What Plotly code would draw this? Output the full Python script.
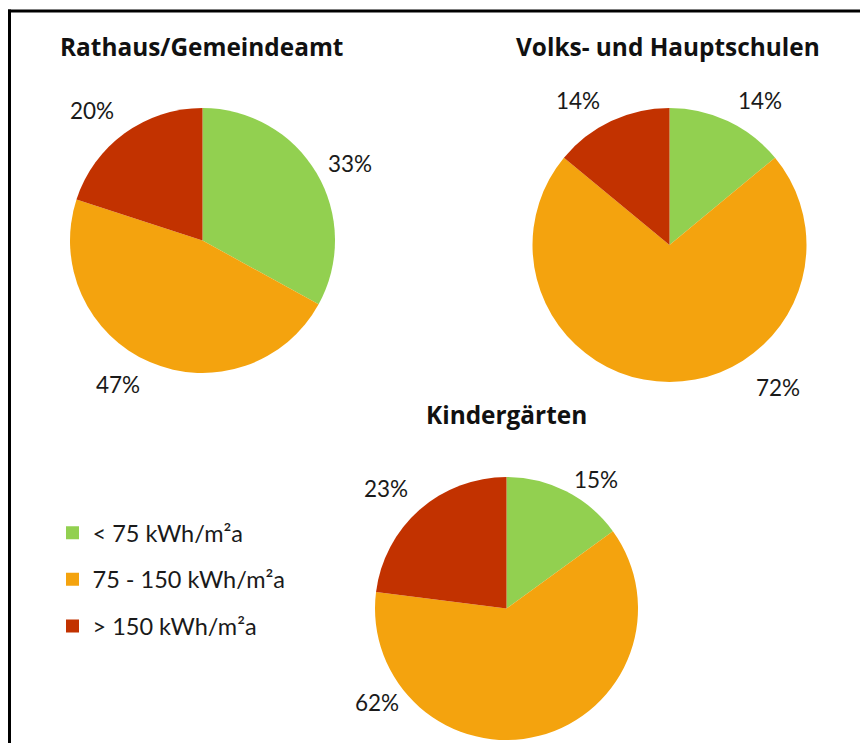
import math
import plotly.graph_objects as go

# ---- data ----
categories = ["< 75 kWh/m²a", "75 - 150 kWh/m²a", "> 150 kWh/m²a"]
titles = ["Rathaus/Gemeindeamt", "Volks- und Hauptschulen", "Kindergärten"]
rathaus = [33, 47, 20]
schulen = [14, 72, 14]
kinder = [15, 62, 23]
series = [rathaus, schulen, kinder]

# ---- styles / layout (pixel geometry in page coordinates) ----
PAGE_OFF = 8          # default body margin of the html page
W, H = 868 - 2 * PAGE_OFF, 751 - 2 * PAGE_OFF
colors = ["#92D050", "#F4A30E", "#C23200"]
# pie centre (px) and radius (px)
pie_geom = [(202.5, 240.5, 132.5), (669.5, 245.0, 137.0), (506.5, 608.5, 131.5)]
# label placement: angle (deg, clockwise from top) and distance from centre (px)
label_angle = [[62.4, 210.3, 319.7], [32.1, 142.8, 327.6], [34.9, 234.2, 314.8]]
label_dist = [[167, 167, 171], [170, 179, 171], [157, 160, 170]]
title_pos = [(201, 47), (668, 47), (506, 414)]

FONT = "Lato"
TITLE_FONT = "Open Sans"

def px_x(x):
    return (x - PAGE_OFF) / W

def px_y(y):
    return 1 - (y - PAGE_OFF) / H

fig = go.Figure()

for i, vals in enumerate(series):
    cx, cy, r = pie_geom[i]
    fig.add_trace(go.Pie(
        labels=categories,
        values=vals,
        sort=False,
        direction="clockwise",
        rotation=0,
        textinfo="none",
        marker=dict(colors=colors, line=dict(width=0)),
        domain=dict(x=[px_x(cx - r), px_x(cx + r)], y=[px_y(cy + r), px_y(cy - r)]),
        showlegend=False,
        name=titles[i],
    ))
    for j, v in enumerate(vals):
        a = math.radians(label_angle[i][j])
        d = label_dist[i][j]
        lx = cx + d * math.sin(a)
        ly = cy - d * math.cos(a)
        fig.add_annotation(x=px_x(lx), y=px_y(ly), xref="paper", yref="paper",
                           text=f"{v}%", showarrow=False,
                           xanchor="center", yanchor="middle",
                           font=dict(family=FONT, size=22.5, color="#1a1a1a"))
    tx, ty = title_pos[i]
    fig.add_annotation(x=px_x(tx), y=px_y(ty), xref="paper", yref="paper",
                       text=f"<b>{titles[i]}</b>", showarrow=False,
                       xanchor="center", yanchor="middle",
                       font=dict(family=TITLE_FONT, size=24.4, color="#111111"))

# legend entries via marker-only traces
for k, cat in enumerate(categories):
    fig.add_trace(go.Scatter(
        x=[None], y=[None], mode="markers", name=cat,
        marker=dict(symbol="square", size=13, color=colors[k]),
        legendgroup=f"g{k}", showlegend=True,
    ))

# frame (only top and left edges are visible in the cropped original)
fig.add_shape(type="line", xref="paper", yref="paper",
              x0=px_x(8), x1=1.0, y0=px_y(11), y1=px_y(11),
              line=dict(color="black", width=3))
fig.add_shape(type="line", xref="paper", yref="paper",
              x0=px_x(9.5), x1=px_x(9.5), y0=px_y(9.5), y1=0,
              line=dict(color="black", width=3))

fig.update_layout(
    width=W, height=H,
    margin=dict(l=0, r=0, t=0, b=0),
    paper_bgcolor="white", plot_bgcolor="white",
    xaxis=dict(visible=False), yaxis=dict(visible=False),
    legend=dict(x=px_x(52.5), y=px_y(511), xanchor="left", yanchor="top",
                font=dict(family=FONT, size=23.5, color="#1a1a1a"),
                tracegroupgap=13, bgcolor="rgba(0,0,0,0)"),
)

fig.write_html("out.html")
